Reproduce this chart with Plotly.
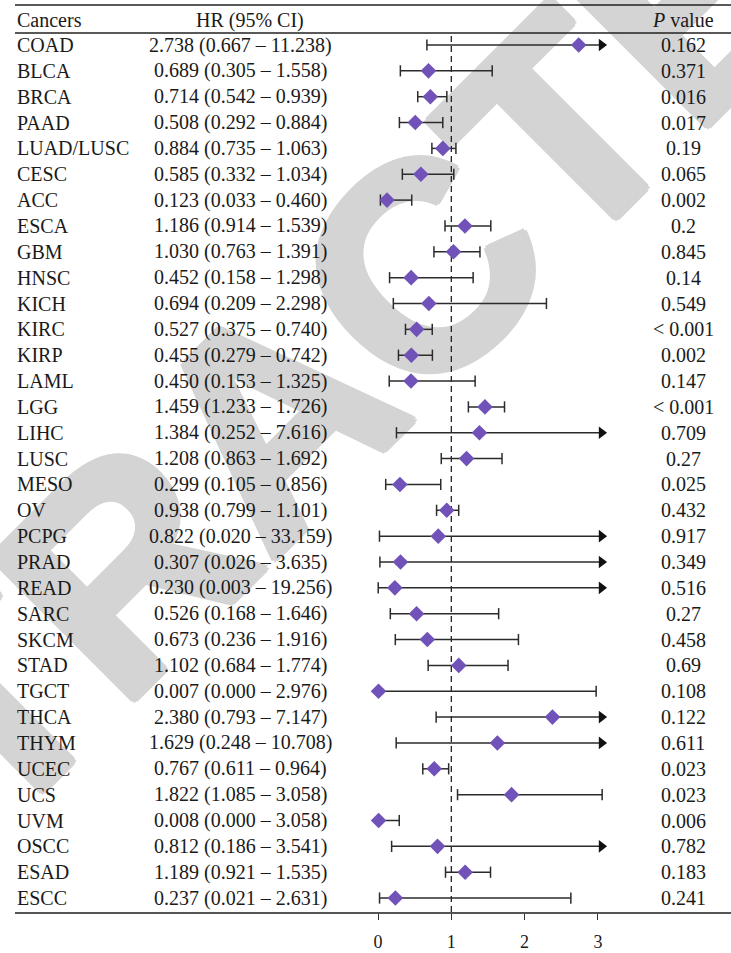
import plotly.graph_objects as go

# ---------------- data ----------------
cancers = ["COAD", "BLCA", "BRCA", "PAAD", "LUAD/LUSC", "CESC", "ACC", "ESCA", "GBM",
           "HNSC", "KICH", "KIRC", "KIRP", "LAML", "LGG", "LIHC", "LUSC", "MESO", "OV",
           "PCPG", "PRAD", "READ", "SARC", "SKCM", "STAD", "TGCT", "THCA", "THYM",
           "UCEC", "UCS", "UVM", "OSCC", "ESAD", "ESCC"]
hr = [2.738, 0.689, 0.714, 0.508, 0.884, 0.585, 0.123, 1.186, 1.030, 0.452, 0.694,
      0.527, 0.455, 0.450, 1.459, 1.384, 1.208, 0.299, 0.938, 0.822, 0.307, 0.230,
      0.526, 0.673, 1.102, 0.007, 2.380, 1.629, 0.767, 1.822, 0.008, 0.812, 1.189, 0.237]
lo = [0.667, 0.305, 0.542, 0.292, 0.735, 0.332, 0.033, 0.914, 0.763, 0.158, 0.209,
      0.375, 0.279, 0.153, 1.233, 0.252, 0.863, 0.105, 0.799, 0.020, 0.026, 0.003,
      0.168, 0.236, 0.684, 0.000, 0.793, 0.248, 0.611, 1.085, 0.000, 0.186, 0.921, 0.021]
hi = [11.238, 1.558, 0.939, 0.884, 1.063, 1.034, 0.460, 1.539, 1.391, 1.298, 2.298,
      0.740, 0.742, 1.325, 1.726, 7.616, 1.692, 0.856, 1.101, 33.159, 3.635, 19.256,
      1.646, 1.916, 1.774, 2.976, 7.147, 10.708, 0.964, 3.058, 3.058, 3.541, 1.535, 2.631]
# upper whisker as actually drawn in the figure (UVM's bar stops near 0.29)
hi_drawn = list(hi)
hi_drawn[cancers.index("UVM")] = 0.29
pvals = ["0.162", "0.371", "0.016", "0.017", "0.19", "0.065", "0.002", "0.2", "0.845",
         "0.14", "0.549", "< 0.001", "0.002", "0.147", "< 0.001", "0.709", "0.27",
         "0.025", "0.432", "0.917", "0.349", "0.516", "0.27", "0.458", "0.69", "0.108",
         "0.122", "0.611", "0.023", "0.023", "0.006", "0.782", "0.183", "0.241"]
x_ticks = [0, 1, 2, 3]
x_limit = 3.1          # whiskers beyond this are truncated with an arrow
x_arrow = 3.05         # where the arrow head sits
ref_line = 1

# ---------------- layout geometry (pixels) ----------------
W, H = 731, 953
ML, MR, MT, MB = 15, 0, 0, 41
PW, PH = W - ML - MR, H - MT - MB
X0_PX, X_UNIT = 378, 73.3          # pixel of x=0, pixels per unit
ROW0_PX, ROW_STEP = 45, 25.85      # pixel of first row centre, row pitch
xr = [(ML - X0_PX) / X_UNIT, (W - MR - X0_PX) / X_UNIT]
yr = [(MT + PH - ROW0_PX) / ROW_STEP, (MT - ROW0_PX) / ROW_STEP]


def px_x(px):
    return (px - ML) / PW


def px_y(py):
    return (MT + PH - py) / PH


n = len(cancers)
rows = list(range(n))

SERIF = "Liberation Serif, Times New Roman, serif"
FS = 20
LINE_C = "#2b2b2b"
PURPLE = "#7152b9"
WM_C = "#d4d4d4"

fig = go.Figure()

# whiskers
lx, ly = [], []
for i in rows:
    end = hi_drawn[i] if hi_drawn[i] <= x_limit else x_arrow
    lx += [lo[i], end, None]
    ly += [i, i, None]
fig.add_trace(go.Scatter(x=lx, y=ly, mode="lines", line=dict(color=LINE_C, width=1.5),
                         hoverinfo="skip", showlegend=False))

# caps
cx, cy = [], []
for i in rows:
    cx.append(lo[i]); cy.append(i)
    if hi_drawn[i] <= x_limit:
        cx.append(hi_drawn[i]); cy.append(i)
fig.add_trace(go.Scatter(x=cx, y=cy, mode="markers",
                         marker=dict(symbol="line-ns", size=8,
                                     line=dict(color=LINE_C, width=1.5)),
                         hoverinfo="skip", showlegend=False))

# arrows for truncated whiskers
ay = [i for i in rows if hi_drawn[i] > x_limit]
fig.add_trace(go.Scatter(x=[x_arrow] * len(ay), y=ay, mode="markers",
                         marker=dict(symbol="triangle-right", size=11, color="#111111"),
                         hoverinfo="skip", showlegend=False))

# point estimates
fig.add_trace(go.Scatter(x=hr, y=rows, mode="markers",
                         marker=dict(symbol="diamond", size=12, color=PURPLE),
                         hoverinfo="skip", showlegend=False))

shapes = []
# watermark
WM_X, WM_Y = 253, 398
sh = ", ".join(f"{dx}px {dy}px 0 {WM_C}" for dx, dy in
               [(3, 3), (-3, -3), (3, -3), (-3, 3), (4, 0), (-4, 0), (0, 4), (0, -4)])
shapes.append(dict(type="rect", xref="paper", yref="paper",
                   x0=px_x(WM_X) - 0.005, x1=px_x(WM_X) + 0.005,
                   y0=px_y(WM_Y) - 0.005, y1=px_y(WM_Y) + 0.005,
                   line=dict(width=0), fillcolor="rgba(0,0,0,0)", layer="below",
                   label=dict(text="RETRACTED", textangle=-45, textposition="middle center",
                              font=dict(family="Liberation Sans, Arial, sans-serif",
                                        size=292, color=WM_C, weight="bold",
                                        shadow=sh))))
# header rules
for py, w in [(5, 1.3), (33, 1.3)]:
    shapes.append(dict(type="line", xref="paper", yref="paper", x0=0, x1=1,
                       y0=px_y(py), y1=px_y(py), line=dict(color="#222222", width=w)))
# reference dashed line
shapes.append(dict(type="line", xref="x", yref="paper", x0=ref_line, x1=ref_line,
                   y0=0, y1=px_y(33), layer="below",
                   line=dict(color="#111111", width=1.2, dash="6px,4px")))

ann = []
hdr_y = (20 - ROW0_PX) / ROW_STEP
ann.append(dict(text="Cancers", x=px_x(15), xanchor="left"))
ann.append(dict(text="HR (95% CI)", x=px_x(250), xanchor="center"))
ann.append(dict(text="<i>P</i> value", x=px_x(683), xanchor="center"))
for a in ann:
    a.update(xref="paper", yref="y", y=hdr_y, yanchor="middle", showarrow=False,
             font=dict(family=SERIF, size=FS, color="#1a1a1a"))
for i in rows:
    ci = f"{hr[i]:.3f} ({lo[i]:.3f} \u2013 {hi[i]:.3f})"
    for txt, xp, anc in [(cancers[i], 15, "left"), (ci, 240, "center"), (pvals[i], 683, "center")]:
        ann.append(dict(text=txt, x=px_x(xp), xanchor=anc, xref="paper", yref="y", y=i,
                        yanchor="middle", showarrow=False,
                        font=dict(family=SERIF, size=FS, color="#1a1a1a")))

fig.update_layout(
    width=W, height=H, margin=dict(l=ML, r=MR, t=MT, b=MB, pad=0),
    paper_bgcolor="white", plot_bgcolor="rgba(0,0,0,0)",
    shapes=shapes, annotations=ann, showlegend=False,
    xaxis=dict(range=xr, showgrid=False, zeroline=False, showline=True,
               linecolor="#555555", linewidth=2, ticks="outside", ticklen=6,
               tickwidth=1.2, tickcolor="#333333", tickvals=x_ticks,
               tickfont=dict(family=SERIF, size=18, color="#1a1a1a"),
               ticklabelstandoff=6, fixedrange=True),
    yaxis=dict(range=yr, visible=False, fixedrange=True),
)

fig.write_html("out.html")
